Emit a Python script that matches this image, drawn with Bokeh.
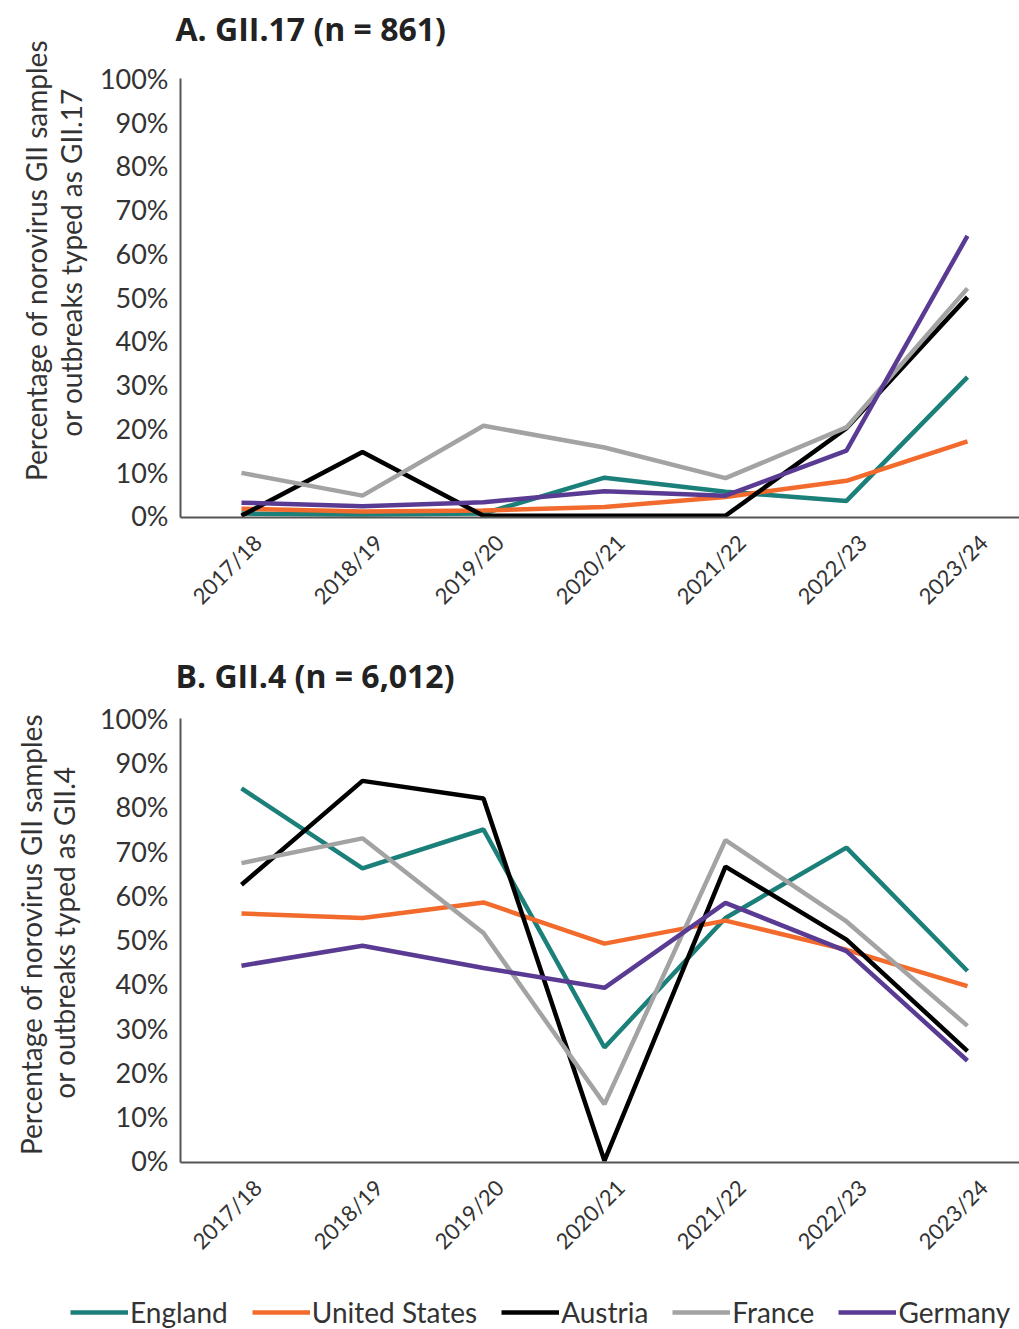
import math
from bokeh.plotting import figure
from bokeh.models import Legend, LegendItem, FixedTicker, Range1d
from bokeh.core.properties import value
from bokeh.layouts import column, row
from bokeh.embed import file_html
from bokeh.resources import INLINE

seasons = ["2017/18", "2018/19", "2019/20", "2020/21", "2021/22", "2022/23", "2023/24"]
countries = ["England", "United States", "Austria", "France", "Germany"]
colors = ["#1b7f7a", "#f26b2c", "#000000", "#a3a3a3", "#5a3b93"]
y_ticks = [0, 10, 20, 30, 40, 50, 60, 70, 80, 90, 100]

# Panel A: GII.17 (%)
gii17_england = [0.5, 0.3, 0.5, 8.7, 5.5, 3.4, 31.7]
gii17_us = [1.6, 1.0, 1.2, 2.0, 4.3, 8.0, 17.0]
gii17_austria = [0.0, 14.6, 0.0, 0.0, 0.0, 20.0, 50.0]
gii17_france = [9.8, 4.6, 20.6, 15.6, 8.6, 20.2, 52.0]
gii17_germany = [3.0, 2.2, 3.1, 5.6, 4.6, 14.9, 64.0]

# Panel B: GII.4 (%)
gii4_england = [84.2, 66.1, 74.9, 25.6, 54.9, 70.8, 42.9]
gii4_us = [55.9, 54.9, 58.4, 49.1, 54.3, 47.7, 39.5]
gii4_austria = [62.4, 85.9, 81.9, 0.0, 66.5, 50.0, 24.8]
gii4_france = [67.3, 72.9, 51.5, 12.8, 72.5, 54.1, 30.5]
gii4_germany = [44.1, 48.6, 43.6, 39.1, 58.3, 47.4, 22.6]

FONT = "Lato"
AXIS_COLOR = "#555555"
TEXT_COLOR = "#333333"
W = 1019
YLAB_W = 90
RW = W - YLAB_W
X0, X1 = -0.504, 6.43
Y0, Y1 = -0.4, 100
LABEL_SHIFT = 0.132  # tick-label anchor shift (in category units)


def blank(width, height):
    f = figure(width=width, height=height, output_backend="svg", toolbar_location=None,
               x_range=Range1d(0, width), y_range=Range1d(0, height),
               min_border_left=0, min_border_right=0, min_border_top=0, min_border_bottom=0)
    f.axis.visible = False
    f.grid.visible = False
    f.outline_line_color = None
    f.background_fill_color = None
    f.border_fill_color = None
    return f


def title_strip(text, height, ty):
    f = blank(RW, height)
    f.text(x=[175 - YLAB_W], y=[ty], text=[text], text_font=value("Open Sans"),
           text_font_size="32px", text_font_style="bold", text_color="#222222",
           text_align="left", text_baseline="middle")
    return f


def ylabel_strip(lines, height, pos):
    f = blank(YLAB_W, height)
    for txt, (lx, ly) in zip(lines, pos):
        f.text(x=[lx], y=[ly], text=[txt], angle=math.pi / 2, text_font=value(FONT),
               text_font_size="28px", text_color=TEXT_COLOR, text_align="center",
               text_baseline="middle")
    return f


def make_panel(series, height, top, bottom):
    p = figure(width=RW, height=height, output_backend="svg", toolbar_location=None,
               x_range=Range1d(X0, X1), y_range=Range1d(Y0, Y1),
               min_border_left=180 - YLAB_W, min_border_right=0, min_border_top=top,
               min_border_bottom=bottom)
    p.outline_line_color = None
    p.xgrid.visible = False
    p.ygrid.visible = False
    p.background_fill_color = None
    p.border_fill_color = None

    xs = list(range(len(seasons)))
    for vals, col in zip(series, colors):
        p.line(xs, vals, line_color=col, line_width=4.5)

    lab_pos = [i + LABEL_SHIFT for i in xs]
    p.xaxis.ticker = FixedTicker(ticks=lab_pos)
    p.xaxis.major_label_overrides = {t: s for t, s in zip(lab_pos, seasons)}
    p.xaxis.major_label_orientation = math.pi / 4
    p.xaxis.major_label_text_font = FONT
    p.xaxis.major_label_text_font_size = "22px"
    p.xaxis.major_label_text_color = TEXT_COLOR
    p.xaxis.major_label_standoff = 15

    p.yaxis.ticker = FixedTicker(ticks=y_ticks)
    p.yaxis.major_label_overrides = {v: f"{v}%" for v in y_ticks}
    p.yaxis.major_label_text_font = FONT
    p.yaxis.major_label_text_font_size = "27px"
    p.yaxis.major_label_text_color = TEXT_COLOR
    p.yaxis.major_label_standoff = 6

    for ax in (p.xaxis, p.yaxis):
        ax.axis_line_color = AXIS_COLOR
        ax.axis_line_width = 2
        ax.major_tick_line_color = None
        ax.minor_tick_line_color = None
    return p


ylab_A = ["Percentage of norovirus GII samples", "or outbreaks typed as GII.17"]
ylab_B = ["Percentage of norovirus GII samples", "or outbreaks typed as GII.4"]

yA = ylabel_strip(ylab_A, 650, [(35, 390), (70, 388)])
tA = title_strip("A. GII.17 (n = 861)", 50, 22)
pA = make_panel([gii17_england, gii17_us, gii17_austria, gii17_france, gii17_germany],
                600, 28, 133)

yB = ylabel_strip(ylab_B, 645, [(30, 361), (63, 363)])
tB = title_strip("B. GII.4 (n = 6,012)", 50, 25)
pB = make_panel([gii4_england, gii4_us, gii4_austria, gii4_france, gii4_germany],
                595, 18, 133)

# legend strip
pL = blank(W, 34)
pL.x_range = Range1d(-10, -9)
items = []
for c, col in zip(countries, colors):
    r = pL.line([0, 1], [0, 1], line_color=col, line_width=4.5)
    items.append(LegendItem(label=c, renderers=[r]))
legend = Legend(items=items, orientation="horizontal", location=(70, 0))
legend.label_text_font = FONT
legend.label_text_font_size = "28px"
legend.label_text_color = TEXT_COLOR
legend.glyph_width = 58
legend.glyph_height = 20
legend.label_standoff = 2
legend.spacing = 24
legend.padding = 0
legend.margin = 0
legend.border_line_color = None
legend.background_fill_color = None
pL.add_layout(legend, "center")

rowA = row(column(yA), column(row(tA), row(pA), spacing=0), spacing=0)
rowB = row(column(yB), column(row(tB), row(pB), spacing=0), spacing=0)
layout = column(rowA, rowB, row(pL), spacing=0)
open("out.html", "w").write(file_html(layout, INLINE))
